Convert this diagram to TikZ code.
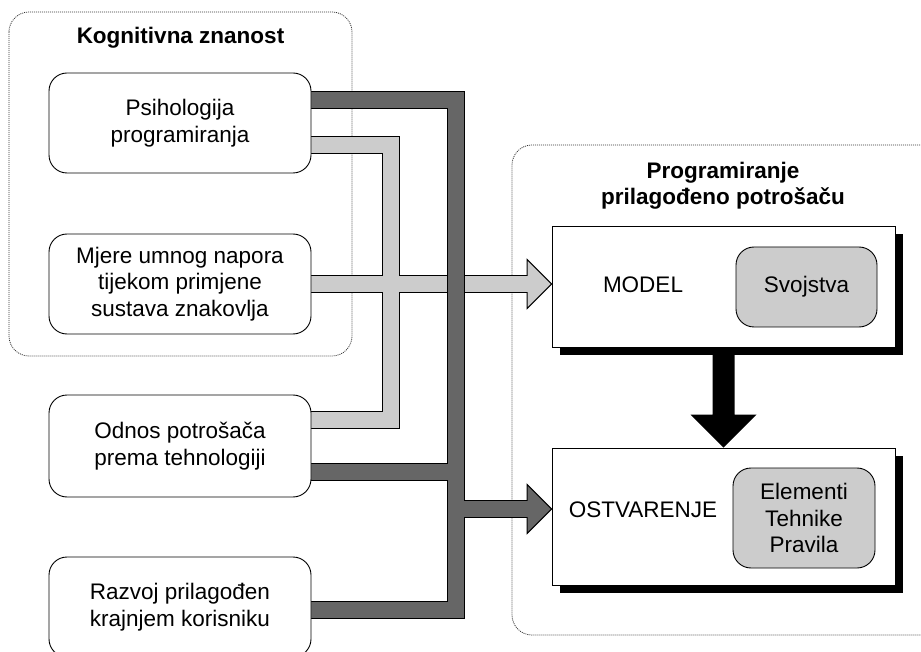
\documentclass[tikz,border=0pt]{standalone}
\usepackage{fontspec}
\setmainfont{Liberation Sans}
\usetikzlibrary{calc,shadows}
\definecolor{lightband}{HTML}{CCCCCC}
\definecolor{darkband}{HTML}{666666}
\pgfdeclarelayer{bg}
\pgfsetlayers{bg,main}
\tikzset{
  txt/.style={font=\fontsize{22.5}{26.5}\selectfont},
  sbox/.style={txt, draw=black, line width=0.9pt, rounded corners=18pt, fill=white,
    minimum width=262pt, minimum height=100pt, align=center, inner sep=0pt},
  group/.style={draw=black!80, dash pattern=on 1pt off 1pt, line width=0.8pt, rounded corners=20pt},
  plainbox/.style={draw=black, line width=0.9pt, fill=white, inner sep=0pt,
    drop shadow={shadow xshift=8pt, shadow yshift=-8pt, fill=black, opacity=1}},
  graybox/.style={txt, draw=black, line width=0.9pt, fill=lightband, rounded corners=18pt,
    align=center, inner sep=0pt},
  lbl/.style={txt, inner sep=0pt},
  ttl/.style={font=\fontsize{22.5}{26}\selectfont\bfseries, align=center, inner sep=0pt},
  bandout/.style={line width=17.5pt, draw=black, line join=miter},
  bandlight/.style={line width=15.5pt, draw=lightband, line join=miter},
  banddark/.style={line width=15.5pt, draw=darkband, line join=miter},
  headst/.style={draw=black, line width=1pt, line join=miter},
}
\begin{document}
\begin{tikzpicture}[x=1pt,y=-1pt]
\useasboundingbox (0,0) rectangle (921,652);
\clip (0,0) rectangle (921,652);

% titles
\node[ttl, anchor=base] (kogt) at (180.5,44) {Kognitivna znanost};
\node[ttl] (progt) at (723,186) {Programiranje\\prilagođeno potrošaču};

% left boxes
\node[sbox] (psi) at (180,123) {Psihologija\\programiranja};
\node[sbox] (mje) at (180,284) {Mjere umnog napora\\tijekom primjene\\sustava znakovlja};
\node[sbox, minimum height=102pt] (odn) at (180,446) {Odnos potrošača\\prema tehnologiji};
\node[sbox] (raz) at (180,607) {Razvoj prilagođen\\krajnjem korisniku};

% right boxes
\node[plainbox, minimum width=343pt, minimum height=121pt] (model) at (723.5,286.5) {};
\node[lbl, anchor=base] (modelt) at (643,293) {MODEL};
\node[graybox, minimum width=141pt, minimum height=80pt] (svo) at (806.5,287) {Svojstva};
\node[plainbox, minimum width=343pt, minimum height=137pt] (ost) at (723.5,516.5) {};
\node[lbl, anchor=base] (ostt) at (643,517) {OSTVARENJE};
\node[graybox, minimum width=142pt, minimum height=100pt] (ele) at (804,518) {Elementi\\Tehnike\\Pravila};

% connector coordinates
\coordinate (dk) at (456,0);
\coordinate (lt) at (391,0);
\coordinate (l1) at ($(psi.east)+(0,22)$);
\coordinate (l3) at ($(odn.east)+(0,-26)$);
\coordinate (d1) at ($(psi.east)+(0,-23)$);
\coordinate (d3) at ($(odn.east)+(0,26)$);
\coordinate (d4) at ($(raz.east)+(0,3)$);
\coordinate (ltip) at (model.west |- mje.east);
\coordinate (dtip) at ($(ost.west)+(0,-7.5)$);

\begin{pgfonlayer}{bg}
  % group frames
  \draw[group] (9,12) rectangle (352,356);
  \draw[group] (990,145) -| (512,635) -- (990,635);

  % light bands
  \draw[bandout] (l1) -- (lt |- l1) -- (lt |- l3) -- (l3);
  \draw[bandout] (mje.east) -- ($(ltip)+(-24.5,0)$);
  \filldraw[headst, fill=lightband] ($(ltip)+(-24.5,-24.5)$) -- (ltip) -- ($(ltip)+(-24.5,24.5)$) -- cycle;
  \draw[bandlight] (l1) -- (lt |- l1) -- (lt |- l3) -- (l3);
  \draw[bandlight] (mje.east) -- ($(ltip)+(-23,0)$);

  % dark bands
  \draw[bandout] (d1) -- (dk |- d1) -- (dk |- d4) -- (d4);
  \draw[bandout] (d3) -- (dk |- d3);
  \draw[bandout] (dk |- dtip) -- ($(dtip)+(-24.5,0)$);
  \filldraw[headst, fill=darkband] ($(dtip)+(-24.5,-24.5)$) -- (dtip) -- ($(dtip)+(-24.5,24.5)$) -- cycle;
  \draw[banddark] (d1) -- (dk |- d1) -- (dk |- d4) -- (d4);
  \draw[banddark] (d3) -- (dk |- d3);
  \draw[banddark] (dk |- dtip) -- ($(dtip)+(-23,0)$);

  % black arrow MODEL -> OSTVARENJE
  \fill[black] ($(model.south)+(-11,0)$) -- ($(model.south)+(11,0)$)
    -- ($(ost.north)+(11,-33)$) -- ($(ost.north)+(33,-33)$) -- (ost.north)
    -- ($(ost.north)+(-33,-33)$) -- ($(ost.north)+(-11,-33)$) -- cycle;
\end{pgfonlayer}
\end{tikzpicture}
\end{document}
